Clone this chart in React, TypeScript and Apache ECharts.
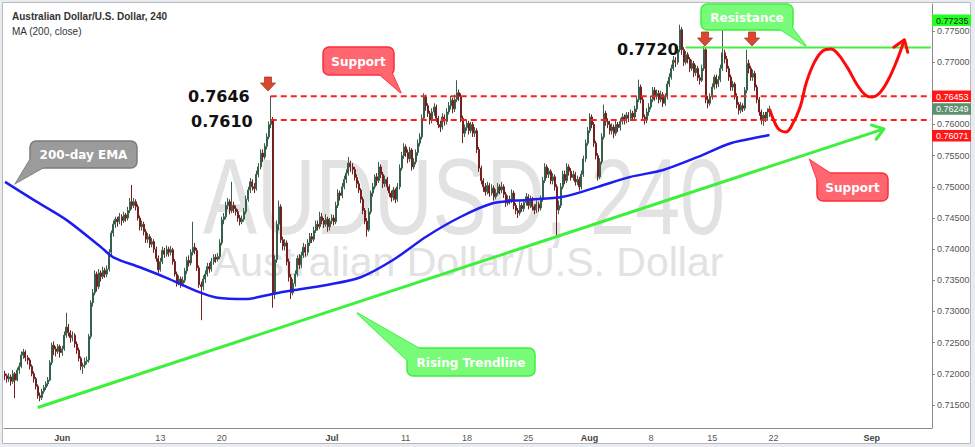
import React, { useEffect, useRef } from "react";
import * as echarts from "echarts";

// ---------- data (prices in 1/10000, rows are [open, close, low, high]) ----------
const candles: number[][] = [
  [7200,7197,7190,7205],[7197,7192,7186,7200],[7192,7195,7187,7201],[7195,7188,7181,7199],[7188,7200,7184,7206],
  [7200,7190,7161,7203],[7190,7206,7188,7210],[7206,7212,7200,7218],[7212,7230,7209,7236],[7230,7235,7224,7240],
  [7235,7226,7220,7238],[7226,7222,7215,7230],[7222,7212,7207,7225],[7212,7200,7196,7215],[7200,7192,7186,7204],
  [7192,7180,7175,7195],[7180,7165,7160,7183],[7165,7162,7156,7170],[7162,7172,7158,7176],[7172,7178,7168,7182],
  [7178,7184,7174,7188],[7184,7190,7180,7195],[7190,7218,7188,7222],[7218,7246,7214,7250],[7246,7240,7230,7252],
  [7240,7236,7228,7244],[7236,7244,7232,7248],[7244,7234,7226,7247],[7234,7240,7229,7245],[7240,7262,7237,7268],
  [7262,7275,7258,7298],[7275,7266,7260,7280],[7266,7258,7250,7270],[7258,7262,7252,7268],[7262,7248,7242,7265],
  [7248,7238,7232,7252],[7238,7225,7220,7242],[7225,7212,7206,7228],[7212,7214,7200,7218],[7214,7220,7209,7226],
  [7220,7222,7215,7228],[7222,7260,7218,7264],[7260,7314,7256,7318],[7314,7330,7308,7336],[7330,7360,7326,7366],
  [7360,7340,7332,7364],[7340,7362,7336,7368],[7362,7356,7348,7366],[7356,7366,7352,7372],[7366,7360,7354,7370],
  [7360,7368,7355,7374],[7368,7395,7364,7400],[7395,7426,7390,7430],[7426,7440,7420,7446],[7440,7448,7434,7452],
  [7448,7444,7436,7452],[7444,7452,7440,7458],[7452,7446,7438,7456],[7446,7455,7442,7460],[7455,7450,7444,7458],
  [7450,7462,7446,7468],[7462,7476,7458,7482],[7476,7470,7464,7503],[7470,7476,7466,7482],[7476,7468,7462,7480],
  [7468,7450,7446,7472],[7450,7436,7430,7454],[7436,7440,7430,7446],[7440,7428,7422,7444],[7428,7416,7410,7432],
  [7416,7420,7410,7426],[7420,7408,7402,7424],[7408,7412,7403,7418],[7412,7400,7394,7416],[7400,7385,7380,7404],
  [7385,7367,7362,7390],[7367,7380,7364,7386],[7380,7398,7376,7404],[7398,7392,7386,7402],[7392,7400,7388,7406],
  [7400,7395,7388,7404],[7395,7399,7390,7405],[7399,7380,7375,7402],[7380,7360,7356,7384],[7360,7347,7340,7364],
  [7347,7352,7342,7358],[7352,7345,7338,7356],[7345,7350,7340,7356],[7350,7365,7346,7370],[7365,7382,7360,7388],
  [7382,7378,7372,7390],[7378,7395,7374,7400],[7395,7403,7390,7444],[7403,7398,7392,7410],[7398,7370,7365,7402],
  [7370,7343,7338,7374],[7343,7340,7286,7348],[7340,7352,7334,7358],[7352,7360,7346,7366],[7360,7372,7356,7378],
  [7372,7368,7362,7378],[7368,7380,7364,7386],[7380,7387,7375,7392],[7387,7384,7378,7392],[7384,7388,7380,7394],
  [7388,7410,7384,7416],[7410,7447,7406,7452],[7447,7452,7440,7458],[7452,7470,7448,7476],[7470,7476,7464,7482],
  [7476,7462,7456,7480],[7462,7470,7458,7508],[7470,7465,7458,7476],[7465,7460,7454,7470],[7460,7450,7444,7464],
  [7450,7444,7438,7455],[7444,7448,7440,7454],[7448,7460,7444,7466],[7460,7480,7456,7486],[7480,7495,7476,7500],
  [7495,7508,7490,7514],[7508,7500,7494,7512],[7500,7497,7490,7506],[7497,7520,7494,7526],[7520,7532,7515,7538],
  [7532,7554,7528,7560],[7554,7548,7540,7560],[7548,7565,7544,7570],[7565,7580,7560,7586],[7580,7600,7576,7605],
  [7600,7607,7594,7646],[7607,7330,7306,7612],[7330,7383,7320,7390],[7383,7440,7378,7446],[7440,7468,7430,7478],
  [7468,7415,7410,7472],[7415,7405,7398,7420],[7405,7410,7398,7416],[7410,7380,7374,7414],[7380,7355,7348,7385],
  [7355,7330,7320,7360],[7330,7345,7326,7352],[7345,7360,7340,7366],[7360,7385,7356,7390],[7385,7375,7368,7392],
  [7375,7390,7370,7396],[7390,7403,7386,7410],[7403,7395,7388,7408],[7395,7410,7390,7416],[7410,7420,7405,7426],
  [7420,7416,7410,7426],[7416,7430,7412,7436],[7430,7440,7426,7446],[7440,7436,7430,7446],[7436,7452,7432,7460],
  [7452,7446,7440,7458],[7446,7440,7434,7450],[7440,7448,7436,7456],[7448,7436,7428,7452],[7436,7445,7430,7450],
  [7445,7450,7440,7456],[7450,7444,7438,7455],[7444,7470,7440,7476],[7470,7490,7466,7496],[7490,7486,7478,7494],
  [7486,7500,7482,7506],[7500,7512,7496,7518],[7512,7522,7506,7528],[7522,7538,7518,7548],[7538,7532,7524,7542],
  [7532,7528,7520,7538],[7528,7515,7510,7532],[7515,7505,7498,7520],[7505,7495,7490,7510],[7495,7480,7474,7498],
  [7480,7462,7456,7484],[7462,7445,7440,7466],[7445,7431,7420,7450],[7431,7460,7428,7466],[7460,7490,7456,7494],
  [7490,7500,7484,7506],[7500,7516,7496,7520],[7516,7510,7502,7522],[7510,7532,7506,7540],[7532,7520,7514,7536],
  [7520,7505,7498,7524],[7505,7512,7500,7518],[7512,7500,7494,7516],[7500,7490,7484,7504],[7490,7483,7476,7494],
  [7483,7495,7478,7500],[7495,7480,7474,7498],[7480,7500,7476,7506],[7500,7530,7496,7536],[7530,7550,7526,7556],
  [7550,7564,7545,7570],[7564,7555,7548,7568],[7555,7545,7538,7560],[7545,7559,7540,7564],[7559,7532,7526,7562],
  [7532,7540,7528,7546],[7540,7555,7536,7560],[7555,7570,7550,7576],[7570,7580,7565,7586],[7580,7610,7576,7616],
  [7610,7644,7606,7650],[7644,7630,7622,7648],[7630,7618,7612,7634],[7618,7607,7600,7622],[7607,7620,7602,7626],
  [7620,7628,7614,7634],[7628,7610,7604,7632],[7610,7600,7594,7614],[7600,7596,7588,7606],[7596,7612,7592,7618],
  [7612,7605,7598,7616],[7605,7620,7600,7626],[7620,7630,7616,7636],[7630,7639,7624,7646],[7639,7625,7618,7643],
  [7625,7640,7620,7648],[7640,7651,7636,7671],[7651,7645,7638,7656],[7645,7610,7604,7650],[7610,7586,7570,7614],
  [7586,7595,7580,7600],[7595,7602,7590,7608],[7602,7590,7584,7606],[7590,7600,7586,7604],[7600,7586,7580,7604],
  [7586,7590,7580,7596],[7590,7560,7554,7594],[7560,7530,7524,7564],[7530,7510,7504,7534],[7510,7500,7492,7514],
  [7500,7492,7486,7506],[7492,7502,7488,7508],[7502,7490,7484,7506],[7490,7498,7486,7504],[7498,7484,7478,7502],
  [7484,7490,7480,7496],[7490,7500,7486,7506],[7500,7495,7488,7504],[7495,7500,7490,7508],[7500,7488,7482,7504],
  [7488,7474,7468,7492],[7474,7480,7470,7486],[7480,7478,7472,7486],[7478,7490,7474,7496],[7490,7470,7464,7494],
  [7470,7462,7456,7474],[7462,7458,7450,7466],[7458,7470,7454,7476],[7470,7465,7460,7474],[7465,7475,7460,7480],
  [7475,7484,7470,7490],[7484,7470,7464,7488],[7470,7480,7466,7486],[7480,7468,7462,7484],[7468,7463,7456,7472],
  [7463,7472,7458,7478],[7472,7466,7460,7476],[7466,7480,7462,7486],[7480,7510,7476,7516],[7510,7532,7506,7538],
  [7532,7520,7514,7536],[7520,7525,7514,7530],[7525,7510,7504,7528],[7510,7516,7504,7522],[7516,7500,7494,7520],
  [7500,7463,7420,7504],[7463,7470,7456,7478],[7470,7500,7466,7506],[7500,7520,7496,7526],[7520,7510,7504,7526],
  [7510,7532,7506,7538],[7532,7525,7518,7536],[7525,7515,7510,7530],[7515,7520,7510,7526],[7520,7508,7502,7524],
  [7508,7512,7503,7518],[7512,7500,7494,7516],[7500,7520,7496,7526],[7520,7545,7516,7550],[7545,7570,7540,7576],
  [7570,7590,7566,7596],[7590,7612,7586,7618],[7612,7600,7594,7616],[7600,7570,7564,7604],[7570,7550,7544,7574],
  [7550,7516,7510,7554],[7516,7540,7512,7546],[7540,7580,7536,7586],[7580,7618,7576,7632],[7618,7605,7598,7622],
  [7605,7600,7594,7610],[7600,7590,7584,7606],[7590,7596,7584,7602],[7596,7586,7578,7600],[7586,7600,7582,7606],
  [7600,7595,7588,7604],[7595,7605,7590,7610],[7605,7612,7600,7618],[7612,7607,7600,7616],[7607,7615,7602,7620],
  [7615,7610,7604,7620],[7610,7618,7606,7624],[7618,7612,7606,7622],[7612,7625,7608,7630],[7625,7640,7620,7646],
  [7640,7660,7636,7672],[7660,7640,7634,7664],[7640,7612,7606,7644],[7612,7607,7600,7616],[7607,7620,7602,7626],
  [7620,7628,7614,7634],[7628,7640,7624,7646],[7640,7655,7636,7660],[7655,7645,7638,7660],[7645,7650,7640,7656],
  [7650,7640,7634,7655],[7640,7648,7636,7654],[7648,7634,7628,7652],[7634,7645,7630,7650],[7645,7665,7640,7670],
  [7665,7676,7660,7682],[7676,7690,7672,7696],[7690,7703,7686,7710],[7703,7700,7692,7708],[7700,7720,7696,7726],
  [7720,7752,7716,7760],[7752,7720,7712,7756],[7720,7700,7694,7724],[7700,7712,7696,7718],[7712,7705,7698,7716],
  [7705,7690,7684,7708],[7690,7698,7686,7704],[7698,7683,7676,7702],[7683,7690,7678,7696],[7690,7675,7670,7694],
  [7675,7671,7664,7680],[7671,7690,7668,7696],[7690,7720,7686,7726],[7720,7640,7634,7724],[7640,7634,7626,7646],
  [7634,7645,7630,7650],[7645,7660,7640,7666],[7660,7676,7656,7680],[7676,7665,7658,7680],[7665,7672,7660,7678],
  [7672,7690,7668,7696],[7690,7715,7686,7752],[7715,7705,7698,7720],[7705,7690,7684,7710],[7690,7676,7670,7694],
  [7676,7660,7654,7680],[7660,7665,7654,7670],[7665,7645,7640,7668],[7645,7632,7626,7650],[7632,7623,7616,7636],
  [7623,7630,7618,7636],[7630,7626,7620,7634],[7626,7655,7622,7660],[7655,7698,7650,7720],[7698,7690,7682,7704],
  [7690,7676,7670,7694],[7676,7682,7670,7688],[7682,7660,7654,7686],[7660,7640,7634,7664],[7640,7620,7614,7644],
  [7620,7607,7600,7624],[7607,7615,7598,7620],[7615,7610,7604,7620],[7610,7620,7606,7626],[7620,7625,7612,7630],
];

// MA (200, close) at these bars
const maIndex = [0, 14, 30, 47, 53, 66, 79, 95, 104, 118, 128, 135, 141, 158, 174, 190, 206, 223, 239, 255, 273, 290, 306, 322, 339, 355, 371, 374];
const maValue = [7508, 7479, 7447, 7403, 7387, 7371, 7354, 7331, 7322, 7320, 7326, 7331, 7334, 7343, 7355, 7383, 7420, 7452, 7474, 7479, 7484, 7500, 7516, 7527, 7548, 7570, 7581, 7583];

// axis
const BAR_COUNT = 454;
const FIRST_DAY = [2016, 4, 25]; // 25 May 2016, first bar at 08:00
const FIRST_HOUR = 8;
const tickDays = ["2016-06-01", "2016-06-13", "2016-06-20", "2016-07-01", "2016-07-11", "2016-07-18", "2016-07-25", "2016-08-01", "2016-08-08", "2016-08-15", "2016-08-22", "2016-09-01"];
const tickLabels = ["Jun", "13", "20", "Jul", "11", "18", "25", "Aug", "8", "15", "22", "Sep"];
const monthLabels = ["Jun", "Jul", "Aug", "Sep"];
const yTicks = [0.715, 0.72, 0.725, 0.73, 0.735, 0.74, 0.745, 0.75, 0.755, 0.76, 0.765, 0.77, 0.775];
const yHiddenLabels = [0.765]; // covered by the price tags in the reference
const Y_MIN = 0.71131;
const Y_MAX = 0.77933;

// drawn levels / lines
const supportHigh = 0.76453;
const supportLow = 0.76071;
const resistance = 0.77235;
const lastPrice = 0.76249;
const levelStart = 130;
const resistanceStart = 333;
const trendIdx = [16, 430];
const trendVal = [0.7146, 0.7593];
const projIdx = [374, 377, 379, 382, 385, 389, 392, 396, 400, 404, 407, 412, 417, 421, 424, 428, 432, 436, 440];
const projVal = [0.7625, 0.7600, 0.7591, 0.7588, 0.7599, 0.7628, 0.7667, 0.7700, 0.7718, 0.7721, 0.7715, 0.7692, 0.7663, 0.7647, 0.7644, 0.7651, 0.7671, 0.7700, 0.7736];

const pad = (n: number) => (n < 10 ? "0" + n : "" + n);

function buildCategories(): string[] {
  const out: string[] = [];
  const d = new Date(Date.UTC(FIRST_DAY[0], FIRST_DAY[1], FIRST_DAY[2]));
  let h0 = FIRST_HOUR;
  while (out.length < BAR_COUNT) {
    const wd = d.getUTCDay();
    if (wd !== 0 && wd !== 6) {
      const day = `${d.getUTCFullYear()}-${pad(d.getUTCMonth() + 1)}-${pad(d.getUTCDate())}`;
      for (let h = h0; h < 24 && out.length < BAR_COUNT; h += 4) out.push(`${day} ${pad(h)}:00`);
      h0 = 0;
    }
    d.setUTCDate(d.getUTCDate() + 1);
  }
  return out;
}

const UI = '"Liberation Sans", Arial, sans-serif';
const BOLD = '"DejaVu Sans", Verdana, sans-serif';

function callout(box: number[], tail: number[][], text: string, fill: string, stroke: string) {
  const [x, y, w, h] = box;
  return [
    { type: "polygon", z: 60, shape: { points: tail }, style: { fill, stroke, lineWidth: 1.5 } },
    { type: "rect", z: 61, shape: { x, y, width: w, height: h, r: 6 }, style: { fill, stroke, lineWidth: 1.5 } },
    { type: "polygon", z: 62, shape: { points: tail }, style: { fill, stroke: null } },
    { type: "text", z: 63, style: { text, x: x + w / 2, y: y + h / 2 + 0.5, align: "center", verticalAlign: "middle", fill: "#ffffff", font: `bold 12px ${BOLD}` } },
  ];
}

function downArrow(cx: number, tip: number) {
  return {
    type: "polygon", z: 60,
    shape: { points: [[cx - 3.5, tip - 14], [cx + 3.5, tip - 14], [cx + 3.5, tip - 8], [cx + 7.5, tip - 8], [cx, tip], [cx - 7.5, tip - 8], [cx - 3.5, tip - 8]] },
    style: { fill: "#d8472f", stroke: "#b8361f", lineWidth: 0.8 },
  };
}

function priceBox(y: number, text: string, bg: string, color: string) {
  return [
    { type: "rect", z: 70, shape: { x: 932, y, width: 39, height: 11.5 }, style: { fill: bg } },
    { type: "text", z: 71, style: { text, x: 936, y: y + 6, verticalAlign: "middle", fill: color, font: `9px ${UI}` } },
  ];
}

function chevron(tip: number[], prev: number[], color: string) {
  const dx = prev[0] - tip[0];
  const dy = prev[1] - tip[1];
  const len = Math.hypot(dx, dy) || 1;
  const ux = dx / len, uy = dy / len;
  const a = (35 * Math.PI) / 180;
  const L = 13;
  const r1 = [tip[0] + L * (ux * Math.cos(a) - uy * Math.sin(a)), tip[1] + L * (ux * Math.sin(a) + uy * Math.cos(a))];
  const r2 = [tip[0] + L * (ux * Math.cos(-a) - uy * Math.sin(-a)), tip[1] + L * (ux * Math.sin(-a) + uy * Math.cos(-a))];
  return { type: "polyline", z: 20, shape: { points: [r1, tip, r2] }, style: { stroke: color, lineWidth: 3, fill: null, lineCap: "round", lineJoin: "round" } };
}

export default function App() {
  const ref = useRef<HTMLDivElement>(null);
  useEffect(() => {
    if (!ref.current) return;
    const chart = echarts.init(ref.current, undefined, { renderer: "svg" });
    const categories = buildCategories();
    const tickMap = new Map<string, string>();
    tickDays.forEach((d, k) => tickMap.set(`${d} 00:00`, tickLabels[k]));
    const isTick = (_i: number, v: string) => tickMap.has(v);

    const lineSeries = (data: number[][], color: string, width: number, extra: any = {}) => ({
      type: "line", data, symbol: "none", silent: true, animation: false,
      lineStyle: { color, width, ...(extra.lineStyle || {}) }, z: extra.z ?? 5, smooth: extra.smooth ?? false,
    });

    chart.setOption({
      animation: false,
      backgroundColor: "#e9edf2",
      grid: { left: 4, right: 43, top: 4, bottom: 19, containLabel: false },
      xAxis: {
        type: "category", data: categories, boundaryGap: true,
        axisLine: { lineStyle: { color: "#8a8a8a", width: 1 } },
        axisTick: { alignWithLabel: true, interval: isTick, length: 3, lineStyle: { color: "#8a8a8a" } },
        axisLabel: {
          interval: isTick, margin: 5, color: "#555", fontSize: 9, fontFamily: UI,
          formatter: (v: string) => {
            const t = tickMap.get(v) || "";
            return monthLabels.includes(t) ? `{m|${t}}` : t;
          },
          rich: { m: { fontWeight: "bold", fontSize: 9, color: "#444", fontFamily: UI } },
        },
        splitLine: { show: false },
      },
      yAxis: {
        type: "value", position: "right", min: Y_MIN, max: Y_MAX,
        axisLine: { show: true, lineStyle: { color: "#8a8a8a", width: 1 } },
        axisTick: { show: true, customValues: yTicks, length: 3, lineStyle: { color: "#8a8a8a" } },
        axisLabel: {
          customValues: yTicks.filter((v) => !yHiddenLabels.includes(v)),
          formatter: (v: number) => v.toFixed(5), color: "#555", fontSize: 9, fontFamily: UI, margin: 5,
        },
        splitLine: { show: false },
      },
      series: [
        {
          type: "candlestick", z: 3, barWidth: 1.5,
          data: candles.map(([o, c, l, h]) => [o / 1e4, c / 1e4, l / 1e4, h / 1e4]),
          itemStyle: { color: "#43855a", color0: "#a02a2a", borderColor: "#35604a", borderColor0: "#742020", borderWidth: 1 },
        },
        lineSeries(maIndex.map((i, k) => [i, maValue[k] / 1e4]), "#1d1df2", 2.5, { smooth: 0.3, z: 4 }),
        lineSeries([[levelStart, supportHigh], [BAR_COUNT - 1, supportHigh]], "#ff1f1f", 2, { lineStyle: { type: [6, 4] } }),
        lineSeries([[levelStart, supportLow], [BAR_COUNT - 1, supportLow]], "#ff1f1f", 2, { lineStyle: { type: [6, 4] } }),
        lineSeries([[resistanceStart, resistance], [BAR_COUNT - 1, resistance]], "#44ee44", 2),
        lineSeries([[trendIdx[0], trendVal[0]], [trendIdx[1], trendVal[1]]], "#3cf03c", 3),
        lineSeries(projIdx.map((i, k) => [i, projVal[k]]), "#ff0a0a", 3, { smooth: 0.4, z: 6 }),
      ],
    });

    const px = (i: number, v: number) => chart.convertToPixel({ xAxisIndex: 0, yAxisIndex: 0 }, [i, v]) as number[];
    const tTip = px(trendIdx[1], trendVal[1]);
    const tPrev = px(trendIdx[0], trendVal[0]);
    const n = projIdx.length;
    const pTip = px(projIdx[n - 1], projVal[n - 1]);
    const pPrev = px(projIdx[n - 2], projVal[n - 2]);
    const yHigh = px(levelStart, supportHigh)[1];
    const yLast = px(levelStart, lastPrice)[1];

    const graphic: any[] = [
      { type: "rect", z: -1, shape: { x: 2.5, y: 2.5, width: 968, height: 441 }, style: { fill: "#ffffff", stroke: "#b9b9b9", lineWidth: 1 } },
      { type: "group", z: 1, x: 203, y: 197, scaleX: 0.75, children: [
        { type: "text", z: 1, style: { text: "AUDUSD, 240", x: 0, y: 0, verticalAlign: "middle", fill: "#e2e2e2", font: `108px ${UI}` } },
      ] },
      { type: "text", z: 1, style: { text: "Australian Dollar/U.S. Dollar", x: 213, y: 262, verticalAlign: "middle", fill: "#e2e2e2", font: `41px ${UI}` } },
      { type: "text", z: 50, style: { text: "Australian Dollar/U.S. Dollar, 240", x: 12, y: 16, verticalAlign: "middle", fill: "#333", font: `bold 10px ${UI}` } },
      { type: "text", z: 50, style: { text: "MA (200, close)", x: 12, y: 31, verticalAlign: "middle", fill: "#333", font: `10px ${UI}` } },
      { type: "text", z: 50, style: { text: "0.7646", x: 188, y: 96, verticalAlign: "middle", fill: "#111", font: `bold 16px ${BOLD}` } },
      { type: "text", z: 50, style: { text: "0.7610", x: 191, y: 121, verticalAlign: "middle", fill: "#111", font: `bold 16px ${BOLD}` } },
      { type: "text", z: 50, style: { text: "0.7720", x: 617, y: 49, verticalAlign: "middle", fill: "#111", font: `bold 16px ${BOLD}` } },
      downArrow(268, 91),
      downArrow(705, 46),
      downArrow(752, 46),
      chevron(tTip, tPrev, "#3cf03c"),
      chevron(pTip, pPrev, "#ff0a0a"),
      ...callout([323, 47, 71, 28], [[378, 73], [392, 73], [401, 93]], "Support", "#ff6670", "#ff2d3a"),
      ...callout([701, 4, 92, 26], [[778, 28], [791, 26], [806, 46]], "Resistance", "#78fb78", "#3ef03e"),
      ...callout([30, 141, 107, 27], [[31, 158], [46, 166], [16, 183]], "200-day EMA", "#9b9b9b", "#7c7c7c"),
      ...callout([817, 173, 71, 28], [[819, 185], [833, 175], [810, 160]], "Support", "#ff6670", "#ff2d3a"),
      ...callout([407, 348, 128, 28], [[420, 349], [408, 361], [357, 313]], "Rising Trendline", "#78fb78", "#3ef03e"),
      ...priceBox(14.5, "0.77235", "#22ff22", "#1a1a1a"),
      ...priceBox(yHigh - 5.75, "0.76453", "#ff1616", "#ffffff"),
      ...priceBox(yLast - 5.75, "0.76249", "#5e8f6f", "#ffffff"),
      ...priceBox(130, "0.76071", "#ff1616", "#ffffff"),
    ];
    chart.setOption({ graphic });
    return () => chart.dispose();
  }, []);
  return <div ref={ref} style={{ position: "fixed", left: 0, top: 0, width: 975, height: 447 }} />;
}
